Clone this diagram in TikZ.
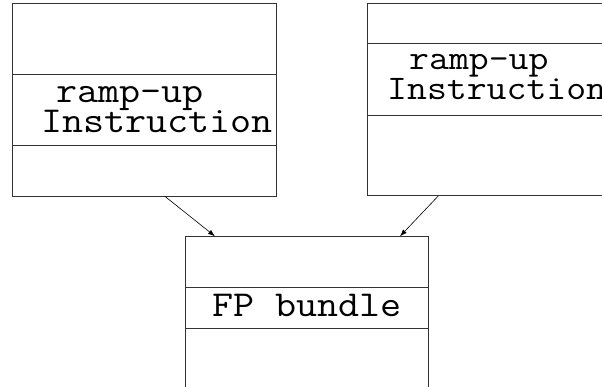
\documentclass[tikz,border=0pt]{standalone}
\usepackage{fontspec}
\newfontfamily\boxfont[FakeStretch=1.12]{Latin Modern Mono}
\usetikzlibrary{arrows.meta,calc}

\begin{document}
\begin{tikzpicture}[x=1pt,y=-1pt,>={Latex[length=7pt,width=5pt]},
    blk/.style={draw=black!80,line width=0.8pt,minimum width=264pt,inner sep=0pt},
    band/.style={draw=black!80,line width=0.8pt},
    lbl/.style={anchor=base west,inner sep=0pt,font=\boxfont\fontsize{36.5}{30}\selectfont},
    lbls/.style={lbl,font=\boxfont\fontsize{34.5}{30}\selectfont},
    link/.style={->,line width=0.6pt}]

% Page frame (pixel coordinates, y downwards)
\useasboundingbox (0,0) rectangle (602,387);
\clip (0,0) rectangle (602,387);

% ---- BOXES ----
\node[blk,minimum height=192.7pt] (leftbox) at (144.5,99.65) {};
\node[blk,minimum height=192.2pt] (rightbox) at (499.3,99.4) {};
\node[blk,minimum width=243.4pt,minimum height=192pt] (fpbox) at (307,332.7) {};

% Bands inside the boxes
\draw[band] (leftbox.west |- 0,74.7) -- (leftbox.east |- 0,74.7);
\draw[band] (leftbox.west |- 0,145.3) -- (leftbox.east |- 0,145.3);
\draw[band] (rightbox.west |- 0,43.7) -- (rightbox.east |- 0,43.7);
\draw[band] (rightbox.west |- 0,115.7) -- (rightbox.east |- 0,115.7);
\draw[band] (fpbox.west |- 0,287.7) -- (fpbox.east |- 0,287.7);
\draw[band] (fpbox.west |- 0,328) -- (fpbox.east |- 0,328);

% ---- LABELS ----
\node[lbl] (lramp) at (56,103) {ramp-up};
\node[lbl] (linstr) at (41,133) {Instruction};
\node[lbls] (rramp) at (409,70) {ramp-up};
\node[lbls] (rinstr) at (387,100) {Instruction};
\node[lbl] (fplbl) at (212,316.7) {FP bundle};

% ---- CONNECTORS ----
\coordinate (lout) at (leftbox.south -| 165,0);
\coordinate (rout) at (rightbox.south -| 438.3,0);
\draw[link] (lout) -- (fpbox.north -| 215,0);
\draw[link] (rout) -- (fpbox.north -| 400,0);

\end{tikzpicture}
\end{document}
